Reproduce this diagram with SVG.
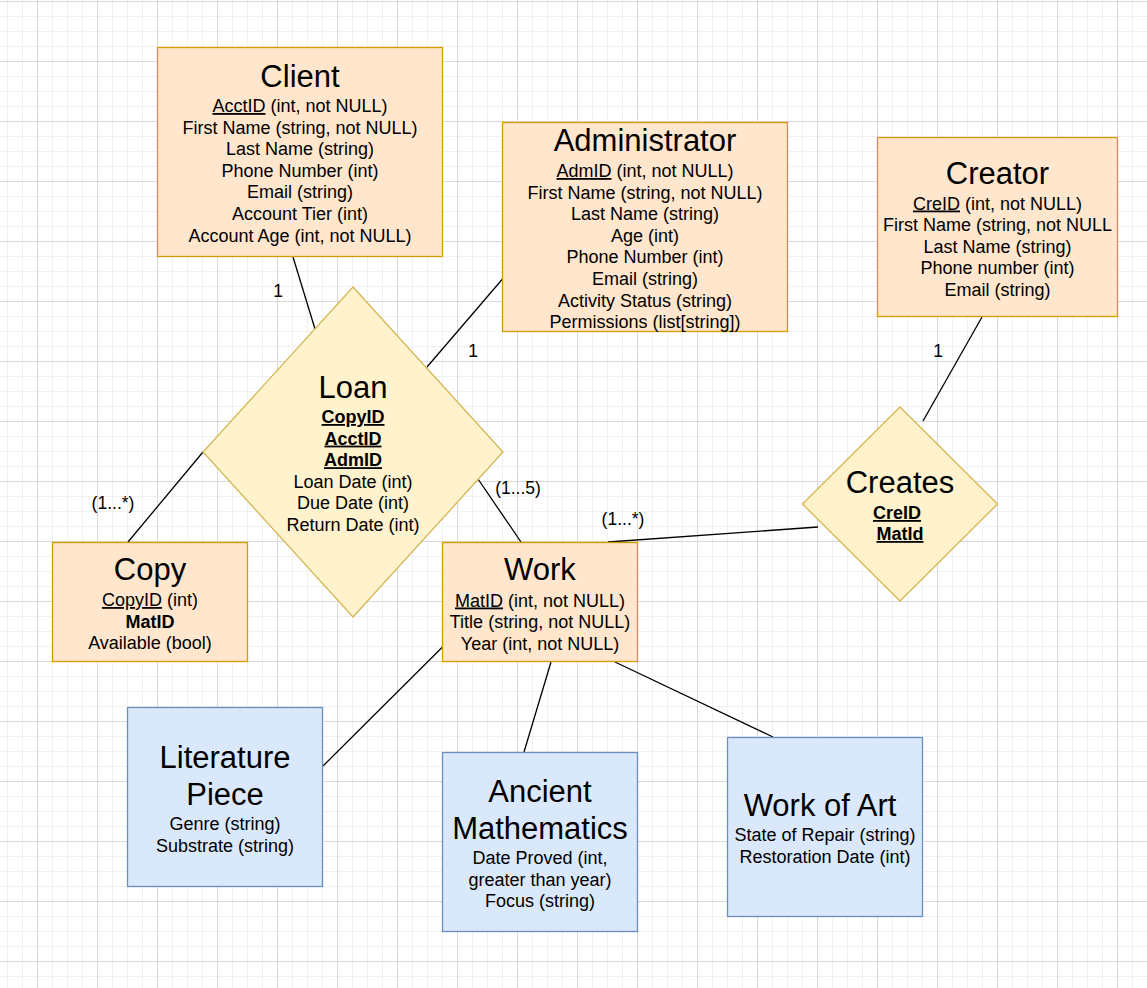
<svg xmlns="http://www.w3.org/2000/svg" width="1147" height="988" viewBox="0 0 1147 988">
<defs>
<pattern id="grid" patternUnits="userSpaceOnUse" x="37" y="1" width="60" height="60">
<rect x="15" y="0" width="1" height="60" fill="#f1f1f1"/>
<rect x="30" y="0" width="1" height="60" fill="#f1f1f1"/>
<rect x="45" y="0" width="1" height="60" fill="#f1f1f1"/>
<rect x="0" y="15" width="60" height="1" fill="#f1f1f1"/>
<rect x="0" y="30" width="60" height="1" fill="#f1f1f1"/>
<rect x="0" y="45" width="60" height="1" fill="#f1f1f1"/>
<rect x="0" y="0" width="1" height="60" fill="#d9d9d9"/>
<rect x="0" y="0" width="60" height="1" fill="#d9d9d9"/>
</pattern>
<style>
text{font-family:"Liberation Sans",Arial,sans-serif;fill:#000;text-anchor:middle}
.t{font-size:31px}
.b{font-size:18px}
.l{font-size:17.5px}
.u{text-decoration:underline}
.bu{font-weight:bold;text-decoration:underline}
.bd{font-weight:bold}
.ent{fill:#ffe6cc;stroke:#d79b00;stroke-width:1.3}
.rel{fill:#fff2cc;stroke:#d6b656;stroke-width:1.3}
.sub{fill:#dae8fc;stroke:#6c8ebf;stroke-width:1.3}
.edge{stroke:#000;stroke-width:1.3;fill:none}
</style>
</defs>
<rect x="0" y="0" width="1147" height="988" fill="#ffffff"/>
<rect x="0" y="0" width="1147" height="988" fill="url(#grid)"/>

<g id="connectors">
<line class="edge" x1="293" y1="257" x2="315" y2="329"/>
<line class="edge" x1="502.5" y1="279" x2="427" y2="367"/>
<line class="edge" x1="203" y1="452" x2="128" y2="542"/>
<line class="edge" x1="478" y1="479" x2="521" y2="542"/>
<line class="edge" x1="608" y1="542" x2="818" y2="527"/>
<line class="edge" x1="982" y1="317" x2="923" y2="421"/>
<line class="edge" x1="442.5" y1="647" x2="323" y2="766"/>
<line class="edge" x1="551" y1="662" x2="524" y2="752"/>
<line class="edge" x1="615" y1="662" x2="773" y2="737"/>
<text class="l" x="278" y="297">1</text>
<text class="l" x="473" y="357">1</text>
<text class="l" x="113" y="509">(1...*)</text>
<text class="l" x="518" y="494">(1...5)</text>
<text class="l" x="623" y="525">(1...*)</text>
<text class="l" x="938" y="357">1</text>
</g>

<g id="client">
<rect class="ent" x="157.5" y="47.5" width="285" height="209"/>
<text class="t" x="300" y="87">Client</text>
<text class="b" x="300" y="112"><tspan class="u">AcctID</tspan> (int, not NULL)</text>
<text class="b" x="300" y="133.6">First Name (string, not NULL)</text>
<text class="b" x="300" y="155.2">Last Name (string)</text>
<text class="b" x="300" y="176.8">Phone Number (int)</text>
<text class="b" x="300" y="198.4">Email (string)</text>
<text class="b" x="300" y="220">Account Tier (int)</text>
<text class="b" x="300" y="241.6">Account Age (int, not NULL)</text>
</g>

<g id="administrator">
<rect class="ent" x="502.5" y="122.5" width="285" height="209"/>
<text class="t" x="645" y="151">Administrator</text>
<text class="b" x="645" y="177"><tspan class="u">AdmID</tspan> (int, not NULL)</text>
<text class="b" x="645" y="198.6">First Name (string, not NULL)</text>
<text class="b" x="645" y="220.2">Last Name (string)</text>
<text class="b" x="645" y="241.8">Age (int)</text>
<text class="b" x="645" y="263.4">Phone Number (int)</text>
<text class="b" x="645" y="285">Email (string)</text>
<text class="b" x="645" y="306.6">Activity Status (string)</text>
<text class="b" x="645" y="328.2">Permissions (list[string])</text>
</g>

<g id="creator">
<rect class="ent" x="877.5" y="137.5" width="240" height="179"/>
<text class="t" x="997.5" y="183.5">Creator</text>
<text class="b" x="997.5" y="209.5"><tspan class="u">CreID</tspan> (int, not NULL)</text>
<text class="b" x="997.5" y="231.1">First Name (string, not NULL</text>
<text class="b" x="997.5" y="252.7">Last Name (string)</text>
<text class="b" x="997.5" y="274.3">Phone number (int)</text>
<text class="b" x="997.5" y="295.9">Email (string)</text>
</g>

<g id="loan">
<polygon class="rel" points="353,287 503,452 353,617 203,452"/>
<text class="t" x="353" y="397.5">Loan</text>
<text class="b bu" x="353" y="423">CopyID</text>
<text class="b bu" x="353" y="444.6">AcctID</text>
<text class="b bu" x="353" y="466.2">AdmID</text>
<text class="b" x="353" y="487.8">Loan Date (int)</text>
<text class="b" x="353" y="509.4">Due Date (int)</text>
<text class="b" x="353" y="531">Return Date (int)</text>
</g>

<g id="copy">
<rect class="ent" x="52.5" y="542.5" width="195" height="119"/>
<text class="t" x="150" y="579.5">Copy</text>
<text class="b" x="150" y="606"><tspan class="u">CopyID</tspan> (int)</text>
<text class="b bd" x="150" y="627.6">MatID</text>
<text class="b" x="150" y="649.2">Available (bool)</text>
</g>

<g id="work">
<rect class="ent" x="442.5" y="542.5" width="195" height="119"/>
<text class="t" x="540" y="580">Work</text>
<text class="b" x="540" y="606.5"><tspan class="u">MatID</tspan> (int, not NULL)</text>
<text class="b" x="540" y="628.1">Title (string, not NULL)</text>
<text class="b" x="540" y="649.7">Year (int, not NULL)</text>
</g>

<g id="creates">
<polygon class="rel" points="900,407 997.5,504 900,601 802.5,504"/>
<text class="t" x="900" y="493">Creates</text>
<text class="b bu" x="897" y="519">CreID</text>
<text class="b bu" x="900" y="540">MatId</text>
</g>

<g id="literature-piece">
<rect class="sub" x="127.5" y="707.5" width="195" height="179"/>
<text class="t" x="225" y="768">Literature</text>
<text class="t" x="225" y="805">Piece</text>
<text class="b" x="225" y="830">Genre (string)</text>
<text class="b" x="225" y="851.6">Substrate (string)</text>
</g>

<g id="ancient-mathematics">
<rect class="sub" x="442.5" y="752.5" width="195" height="179"/>
<text class="t" x="540" y="801.5">Ancient</text>
<text class="t" x="540" y="838.5">Mathematics</text>
<text class="b" x="540" y="864">Date Proved (int,</text>
<text class="b" x="540" y="885.6">greater than year)</text>
<text class="b" x="540" y="907.2">Focus (string)</text>
</g>

<g id="work-of-art">
<rect class="sub" x="727.5" y="737.5" width="195" height="179"/>
<text class="t" x="820" y="816">Work of Art</text>
<text class="b" x="825" y="841">State of Repair (string)</text>
<text class="b" x="825" y="862.6">Restoration Date (int)</text>
</g>
</svg>
